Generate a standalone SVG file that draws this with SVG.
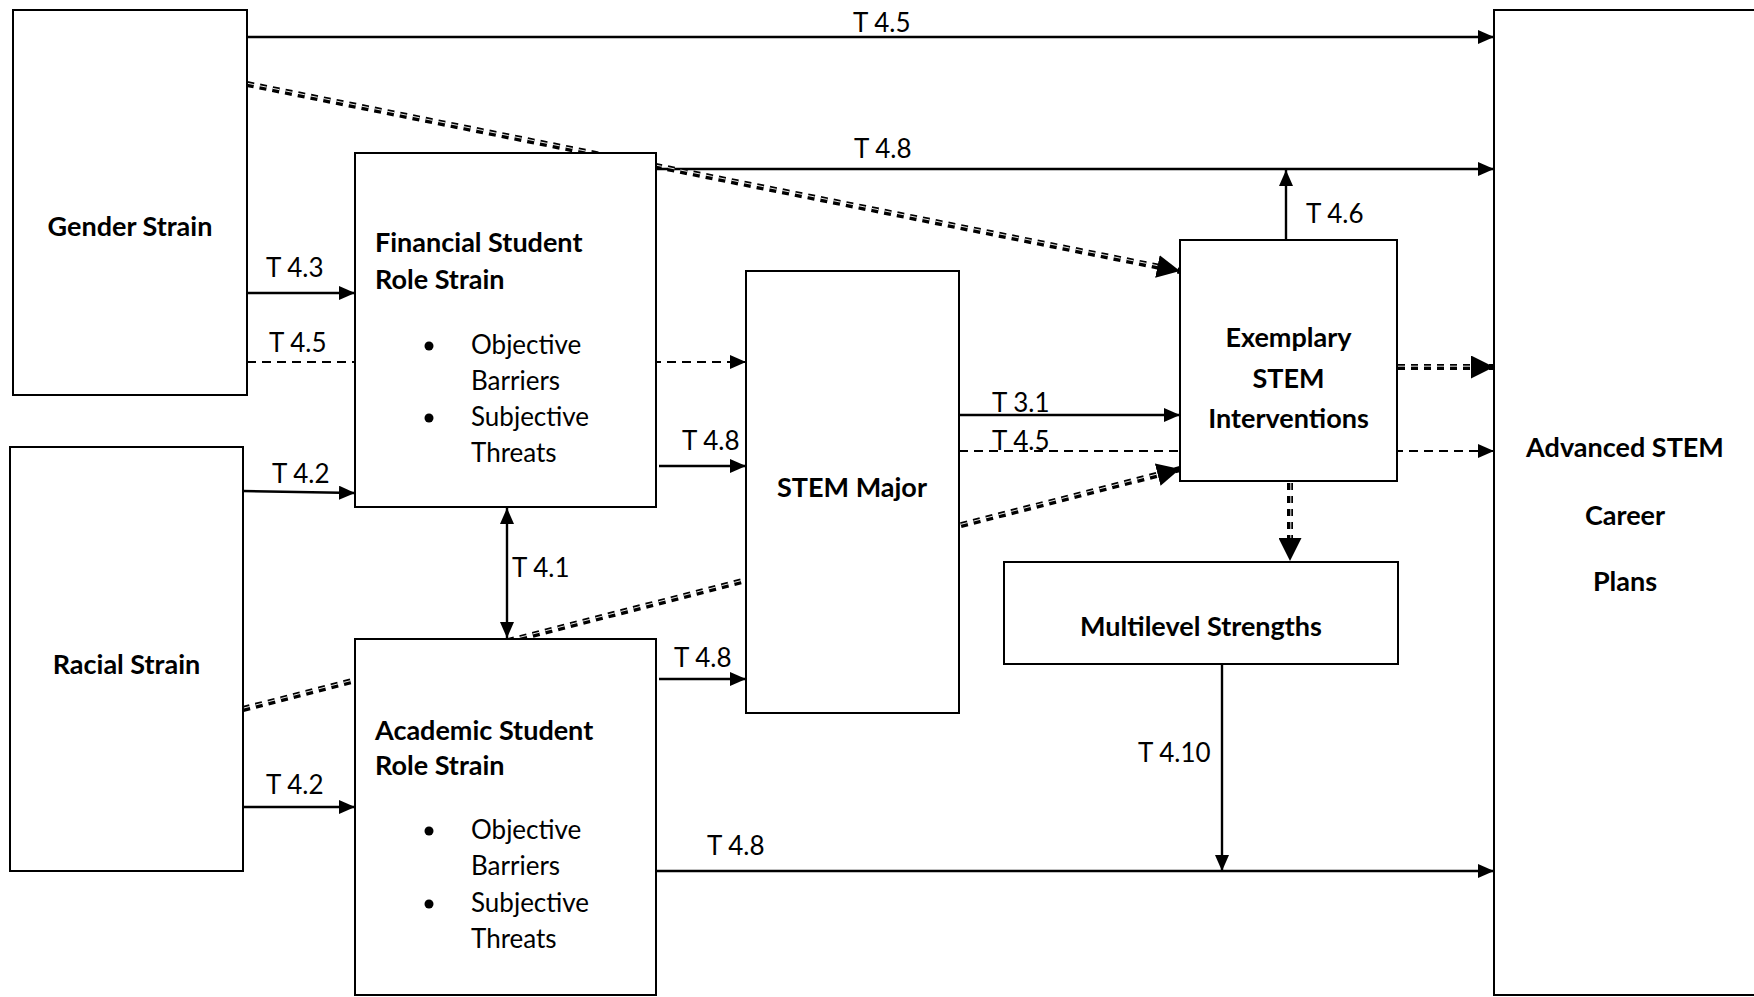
<svg xmlns="http://www.w3.org/2000/svg" width="1754" height="997" viewBox="0 0 1754 997">
<style>
.box{fill:#fff;stroke:#000;stroke-width:2}
.t{font-family:Lato,"Liberation Sans",sans-serif;font-size:26px;fill:#000}
.b{font-family:Lato,"Liberation Sans",sans-serif;font-size:27px;font-weight:bold;fill:#000}
.solid{fill:none;stroke:#000;stroke-width:2.4}
.dash{fill:none;stroke:#000;stroke-width:2.2;stroke-dasharray:9 6}
.dd{fill:none;stroke:#000;stroke-width:6;stroke-dasharray:7 6}
.ddw{fill:none;stroke:#fff;stroke-width:0.9;stroke-dasharray:7 6}
</style>
<defs>
<marker id="a" markerUnits="userSpaceOnUse" markerWidth="16" markerHeight="14" refX="16" refY="7" orient="auto-start-reverse" viewBox="0 0 16 14"><path d="M0,0 L16,7 L0,14 z" fill="#000"/></marker>
<marker id="big" markerUnits="userSpaceOnUse" markerWidth="23" markerHeight="23" refX="23" refY="11.5" orient="auto" viewBox="0 0 23 23"><path d="M0,0 L23,11.5 L0,23 z" fill="#000"/></marker>
</defs>
<g id="connectors">
<line class="solid" x1="247" y1="37" x2="1494" y2="37" marker-end="url(#a)"/>
<text class="t" x="853" y="32">T 4.5</text>
<line class="solid" x1="656" y1="169" x2="1494" y2="169" marker-end="url(#a)"/>
<text class="t" x="854" y="158">T 4.8</text>
<line class="dd" x1="247" y1="84" x2="1180" y2="271" marker-end="url(#big)"/>
<line class="ddw" x1="247" y1="83.2" x2="1157.4" y2="265.6"/>
<line class="dd" x1="243" y1="709" x2="1180" y2="469" marker-end="url(#big)"/>
<line class="ddw" x1="243" y1="708.2" x2="1157.7" y2="473.9"/>
<line class="dd" x1="1398" y1="367" x2="1494" y2="367" marker-end="url(#big)"/>
<line class="ddw" x1="1398" y1="366.2" x2="1471" y2="366.2"/>
<line class="dd" x1="1290" y1="483" x2="1290" y2="561" marker-end="url(#big)"/>
<line class="ddw" x1="1290.8" y1="483" x2="1290.8" y2="538"/>
<line class="solid" x1="247" y1="293" x2="355" y2="293" marker-end="url(#a)"/>
<text class="t" x="266" y="277">T 4.3</text>
<line class="dash" x1="247" y1="362" x2="746" y2="362" marker-end="url(#a)"/>
<text class="t" x="269" y="352">T 4.5</text>
<line class="solid" x1="243" y1="491" x2="355" y2="493" marker-end="url(#a)"/>
<text class="t" x="272" y="483">T 4.2</text>
<line class="solid" x1="507" y1="508" x2="507" y2="638" marker-start="url(#a)" marker-end="url(#a)"/>
<text class="t" x="512" y="577">T 4.1</text>
<line class="solid" x1="243" y1="807" x2="355" y2="807" marker-end="url(#a)"/>
<text class="t" x="266" y="794">T 4.2</text>
<line class="solid" x1="659" y1="466" x2="746" y2="466" marker-end="url(#a)"/>
<text class="t" x="682" y="450">T 4.8</text>
<line class="solid" x1="659" y1="679" x2="746" y2="679" marker-end="url(#a)"/>
<text class="t" x="674" y="667">T 4.8</text>
<line class="solid" x1="656" y1="871" x2="1494" y2="871" marker-end="url(#a)"/>
<text class="t" x="707" y="855">T 4.8</text>
<line class="solid" x1="959" y1="415" x2="1180" y2="415" marker-end="url(#a)"/>
<text class="t" x="992" y="412">T 3.1</text>
<line class="dash" x1="959" y1="451" x2="1494" y2="451" marker-end="url(#a)"/>
<text class="t" x="992" y="450">T 4.5</text>
<line class="solid" x1="1286" y1="240" x2="1286" y2="170" marker-end="url(#a)"/>
<text class="t" x="1306" y="223">T 4.6</text>
<line class="solid" x1="1222" y1="665" x2="1222" y2="871" marker-end="url(#a)"/>
<text class="t" x="1138" y="762">T 4.10</text>
</g>
<g id="gender-strain">
<rect class="box" x="13" y="10" width="234" height="385"/>
<text class="b" x="130" y="236" text-anchor="middle">Gender Strain</text>
</g>
<g id="racial-strain">
<rect class="box" x="10" y="447" width="233" height="424"/>
<text class="b" x="126.5" y="674" text-anchor="middle">Racial Strain</text>
</g>
<g id="financial-strain">
<rect class="box" x="355" y="153" width="301" height="354"/>
<text class="b" x="375" y="252">Financial Student</text>
<text class="b" x="375" y="289">Role Strain</text>
<circle cx="429" cy="346" r="4.5"/>
<text class="t" x="471" y="354">Objective</text>
<text class="t" x="471" y="390">Barriers</text>
<circle cx="429" cy="418" r="4.5"/>
<text class="t" x="471" y="426">Subjective</text>
<text class="t" x="471" y="462">Threats</text>
</g>
<g id="academic-strain">
<rect class="box" x="355" y="639" width="301" height="356"/>
<text class="b" x="375" y="740">Academic Student</text>
<text class="b" x="375" y="775">Role Strain</text>
<circle cx="429" cy="831" r="4.5"/>
<text class="t" x="471" y="839">Objective</text>
<text class="t" x="471" y="875">Barriers</text>
<circle cx="429" cy="904" r="4.5"/>
<text class="t" x="471" y="912">Subjective</text>
<text class="t" x="471" y="948">Threats</text>
</g>
<g id="stem-major">
<rect class="box" x="746" y="271" width="213" height="442"/>
<text class="b" x="852" y="497" text-anchor="middle">STEM Major</text>
</g>
<g id="exemplary">
<rect class="box" x="1180" y="240" width="217" height="241"/>
<text class="b" x="1288.5" y="347" text-anchor="middle">Exemplary</text>
<text class="b" x="1288.5" y="388" text-anchor="middle">STEM</text>
<text class="b" x="1288.5" y="428" text-anchor="middle">Interventions</text>
</g>
<g id="multilevel">
<rect class="box" x="1004" y="562" width="394" height="102"/>
<text class="b" x="1201" y="636" text-anchor="middle">Multilevel Strengths</text>
</g>
<g id="advanced">
<rect class="box" x="1494" y="10" width="264" height="985"/>
<text class="b" x="1625" y="457" text-anchor="middle">Advanced STEM</text>
<text class="b" x="1625" y="525" text-anchor="middle">Career</text>
<text class="b" x="1625" y="591" text-anchor="middle">Plans</text>
</g>
</svg>
